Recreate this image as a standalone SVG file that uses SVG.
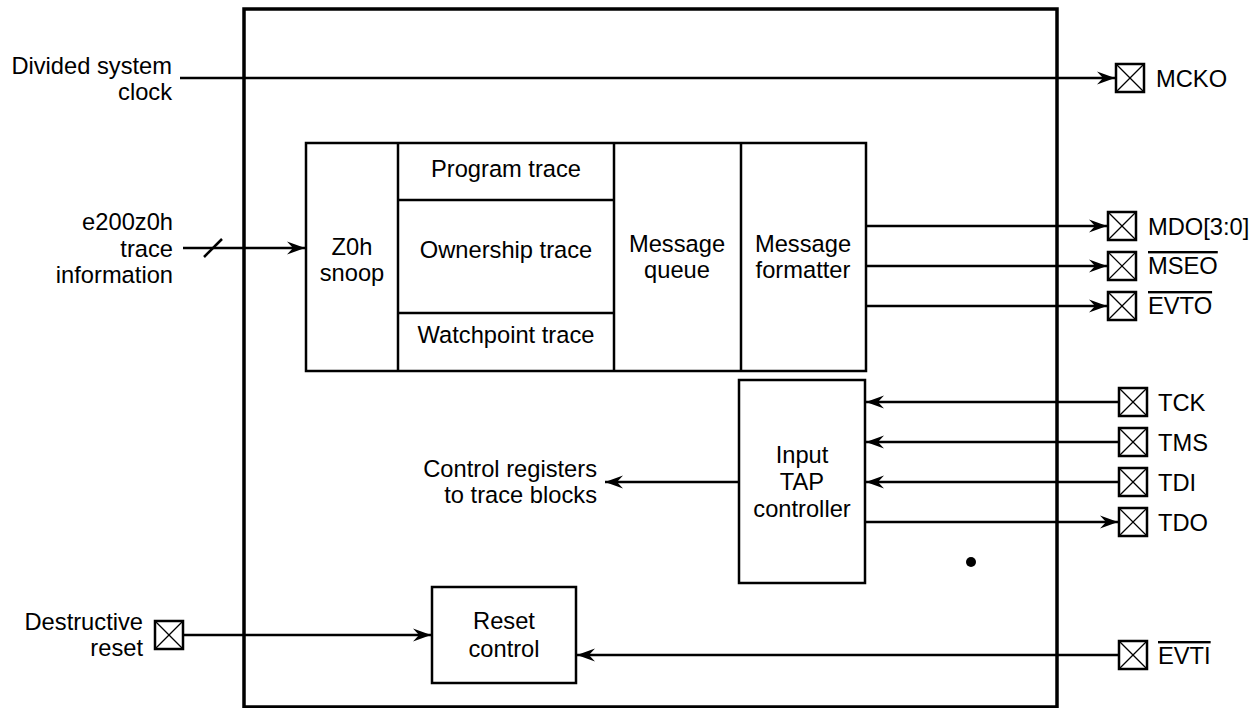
<svg xmlns="http://www.w3.org/2000/svg" xmlns:xlink="http://www.w3.org/1999/xlink" width="1258" height="708" viewBox="0 0 1258 708">
<style>
text{font-family:"Liberation Sans",Arial,sans-serif;font-size:23.7px;fill:#000}
.c{text-anchor:middle}
.r{text-anchor:end}
.ov{text-decoration:overline}
.box{fill:none;stroke:#000;stroke-width:2.5}
.outer{fill:none;stroke:#000;stroke-width:3.5}
.ln{fill:none;stroke:#000;stroke-width:2.5}
.pinbox{fill:#fff;stroke:#000;stroke-width:2.5}
.x{stroke:#000;stroke-width:1.2}
</style>
<defs>
<marker id="arr" markerUnits="userSpaceOnUse" markerWidth="20" markerHeight="16" viewBox="-18 -8 20 16" refX="0" refY="0" orient="auto">
<path d="M0,0 L-18,-6.5 L-12,0 L-18,6.5 Z" fill="#000"/>
</marker>
<g id="pin">
<rect class="pinbox" x="0" y="0" width="28" height="28"/>
<line class="x" x1="0" y1="0" x2="28" y2="28"/>
<line class="x" x1="28" y1="0" x2="0" y2="28"/>
</g>
</defs>
<rect width="1258" height="708" fill="#fff"/>

<g id="outer">
<rect class="outer" x="244" y="9" width="813" height="698"/>
</g>

<g id="trace-block">
<rect class="box" x="306" y="143" width="560" height="228"/>
<line class="ln" x1="398" y1="143" x2="398" y2="371"/>
<line class="ln" x1="614" y1="143" x2="614" y2="371"/>
<line class="ln" x1="741" y1="143" x2="741" y2="371"/>
<line class="ln" x1="398" y1="200" x2="614" y2="200"/>
<line class="ln" x1="398" y1="313" x2="614" y2="313"/>
</g>
<g id="z0h-snoop"><text class="c" x="352" y="255">Z0h</text><text class="c" x="352" y="281">snoop</text></g>
<g id="program-trace"><text class="c" x="506" y="177">Program trace</text></g>
<g id="ownership-trace"><text class="c" x="506" y="258">Ownership trace</text></g>
<g id="watchpoint-trace"><text class="c" x="506" y="343">Watchpoint trace</text></g>
<g id="message-queue"><text class="c" x="677" y="252">Message</text><text class="c" x="677" y="278">queue</text></g>
<g id="message-formatter"><text class="c" x="803" y="252">Message</text><text class="c" x="803" y="278">formatter</text></g>

<g id="tap-controller">
<rect class="box" x="739" y="380" width="126" height="203"/>
<text class="c" x="802" y="463">Input</text>
<text class="c" x="802" y="490">TAP</text>
<text class="c" x="802" y="517">controller</text>
</g>

<g id="reset-control">
<rect class="box" x="432" y="587" width="144" height="96"/>
<text class="c" x="504" y="629">Reset</text>
<text class="c" x="504" y="657">control</text>
</g>

<g id="labels">
<text class="r" x="172" y="74">Divided system</text>
<text class="r" x="172" y="100">clock</text>
<text class="r" x="173" y="230">e200z0h</text>
<text class="r" x="173" y="257">trace</text>
<text class="r" x="173" y="283">information</text>
<text class="r" x="597" y="477">Control registers</text>
<text class="r" x="597" y="503">to trace blocks</text>
<text class="r" x="143" y="630">Destructive</text>
<text class="r" x="143" y="656">reset</text>
</g>

<g id="pins">
<g id="pin-mcko"><use xlink:href="#pin" x="1116" y="64"/><text x="1156" y="87">MCKO</text></g>
<g id="pin-mdo"><use xlink:href="#pin" x="1108" y="212"/><text x="1148" y="235">MDO[3:0]</text></g>
<g id="pin-mseo"><use xlink:href="#pin" x="1108" y="252"/><text class="ov" x="1148" y="274">MSEO</text></g>
<g id="pin-evto"><use xlink:href="#pin" x="1108" y="292"/><text class="ov" x="1148" y="314">EVTO</text></g>
<g id="pin-tck"><use xlink:href="#pin" x="1119" y="388"/><text x="1158" y="411">TCK</text></g>
<g id="pin-tms"><use xlink:href="#pin" x="1119" y="428"/><text x="1158" y="451">TMS</text></g>
<g id="pin-tdi"><use xlink:href="#pin" x="1119" y="468"/><text x="1158" y="491">TDI</text></g>
<g id="pin-tdo"><use xlink:href="#pin" x="1119" y="508"/><text x="1158" y="531">TDO</text></g>
<g id="pin-evti"><use xlink:href="#pin" x="1119" y="641"/><text class="ov" x="1158" y="664">EVTI</text></g>
<g id="pin-reset"><use xlink:href="#pin" x="155" y="621"/></g>
</g>

<g id="connectors">
<line class="ln" x1="180" y1="78" x2="1115" y2="78" marker-end="url(#arr)"/>
<line class="ln" x1="183" y1="248" x2="305" y2="248" marker-end="url(#arr)"/>
<line class="ln" x1="204" y1="257" x2="222" y2="239" stroke-width="1.5"/>
<line class="ln" x1="866" y1="226" x2="1107" y2="226" marker-end="url(#arr)"/>
<line class="ln" x1="866" y1="266" x2="1107" y2="266" marker-end="url(#arr)"/>
<line class="ln" x1="866" y1="306" x2="1107" y2="306" marker-end="url(#arr)"/>
<line class="ln" x1="1119" y1="402" x2="866" y2="402" marker-end="url(#arr)"/>
<line class="ln" x1="1119" y1="442" x2="866" y2="442" marker-end="url(#arr)"/>
<line class="ln" x1="1119" y1="482" x2="866" y2="482" marker-end="url(#arr)"/>
<line class="ln" x1="865" y1="522" x2="1118" y2="522" marker-end="url(#arr)"/>
<line class="ln" x1="739" y1="482" x2="605" y2="482" marker-end="url(#arr)"/>
<line class="ln" x1="183" y1="635" x2="431" y2="635" marker-end="url(#arr)"/>
<line class="ln" x1="1119" y1="655" x2="577" y2="655" marker-end="url(#arr)"/>
</g>

<circle cx="971" cy="562" r="5" fill="#000"/>
</svg>
